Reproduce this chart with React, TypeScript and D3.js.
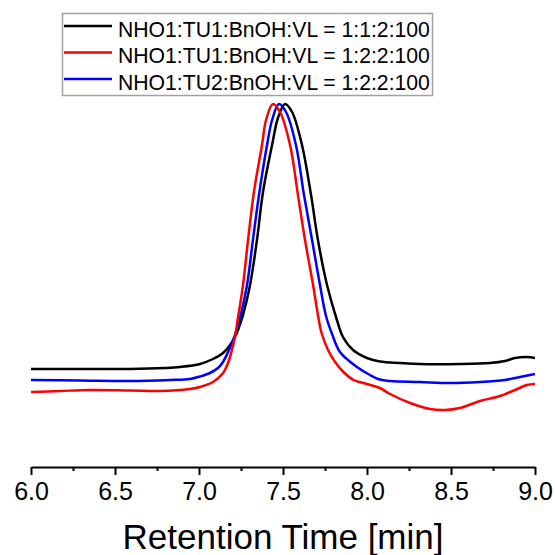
import { useEffect, useRef } from "react"
import { axisBottom, scaleLinear, line, curveCatmullRom, select } from "d3"

// retention time [min] and detector signal (a.u.)
const blackTime = [6.0, 6.292, 6.589, 6.798, 6.887, 7.006, 7.083, 7.143, 7.185, 7.214, 7.232, 7.262, 7.304, 7.345, 7.381, 7.435, 7.47, 7.512, 7.554, 7.613, 7.667, 7.708, 7.762, 7.821, 7.857, 7.917, 8.0, 8.077, 8.2, 8.315, 8.554, 8.732, 8.821, 8.881, 8.952, 9.0]
const blackSignal = [31, 31, 31, 32, 33, 36, 41, 47, 55, 63, 70, 85, 115, 160, 208, 255, 282, 296, 288, 255, 205, 160, 115, 80, 63, 50, 42, 38.5, 37, 36, 36, 37, 39, 42, 43, 42]

const redTime = [6.0, 6.173, 6.351, 6.589, 6.768, 6.946, 7.006, 7.083, 7.143, 7.173, 7.196, 7.214, 7.232, 7.262, 7.292, 7.327, 7.375, 7.399, 7.44, 7.482, 7.542, 7.589, 7.631, 7.679, 7.708, 7.728, 7.768, 7.81, 7.86, 7.92, 8.0, 8.077, 8.137, 8.256, 8.375, 8.464, 8.554, 8.673, 8.792, 8.881, 8.952, 9.0]
const redSignal = [8, 9, 10, 9.5, 9, 11, 13, 18, 27, 37, 50, 63, 82, 115, 160, 208, 255, 280, 296, 288, 255, 205, 160, 115, 85, 68, 50, 38, 28, 20, 16, 12, 6, -3, -9, -10, -8, -1, 4, 10, 15, 16]

const blueTime = [6.0, 6.292, 6.589, 6.827, 6.946, 7.006, 7.065, 7.113, 7.143, 7.173, 7.196, 7.214, 7.244, 7.286, 7.321, 7.357, 7.405, 7.435, 7.476, 7.518, 7.577, 7.625, 7.673, 7.72, 7.756, 7.792, 7.839, 7.94, 8.018, 8.077, 8.137, 8.315, 8.494, 8.673, 8.821, 8.911, 9.0]
const blueSignal = [20, 19.5, 19, 20, 21, 23.5, 27, 32, 38, 48, 57, 65, 82, 115, 160, 205, 255, 280, 296, 288, 255, 205, 160, 115, 84, 66, 48, 33, 25, 20.5, 19, 18, 17, 18, 20, 23, 26]

const seriesNames = [
  "NHO1:TU1:BnOH:VL = 1:1:2:100",
  "NHO1:TU1:BnOH:VL = 1:2:2:100",
  "NHO1:TU2:BnOH:VL = 1:2:2:100"
]
const seriesColors = ["#000000", "#ff0000", "#0000ff"]

const majorTicks = [6.0, 6.5, 7.0, 7.5, 8.0, 8.5, 9.0]
const minorTicks = [6.25, 6.75, 7.25, 7.75, 8.25, 8.75]

const FONT = "'Liberation Sans', Arial, sans-serif"

function AxisBottom({ scale, transform }) {
  const ref = useRef(null)
  const minorRef = useRef(null)

  useEffect(() => {
    if (ref.current) {
      const gen = axisBottom(scale)
        .tickValues(majorTicks)
        .tickFormat((d) => d.toFixed(1))
        .tickSize(8)
        .tickSizeOuter(0)
        .tickPadding(7)
      const g = select(ref.current).call(gen)
      g.attr("font-size", "25px").attr("font-family", FONT)
      g.select(".domain").attr("stroke", "black").attr("stroke-width", 2)
      g.selectAll(".tick line").attr("stroke", "black").attr("stroke-width", 2)
      g.selectAll(".tick text").attr("fill", "black")
    }
    if (minorRef.current) {
      const m = select(minorRef.current).call(
        axisBottom(scale).tickValues(minorTicks).tickSize(4).tickSizeOuter(0).tickFormat(() => "")
      )
      m.select(".domain").remove()
      m.selectAll(".tick line").attr("stroke", "black").attr("stroke-width", 2)
    }
  }, [scale])

  return (
    <g transform={transform}>
      <g ref={minorRef} />
      <g ref={ref} />
    </g>
  )
}

function Legend({ x, y }) {
  const rowH = 26.5
  return (
    <g transform={`translate(${x}, ${y})`}>
      <rect x={0.5} y={0.5} width={370} height={82} fill="white" stroke="#a0a0a0" strokeWidth={1.5} />
      {seriesNames.map((name, i) => (
        <g key={name} transform={`translate(0, ${13 + i * rowH})`}>
          <line x1={2} x2={50} y1={0} y2={0} stroke={seriesColors[i]} strokeWidth={2.5} />
          <text x={56} y={10.5} fontSize="21.2px" fontFamily={FONT} fill="black">
            {name}
          </text>
        </g>
      ))}
    </g>
  )
}

export default function App() {
  const w = 555
  const h = 555
  const margin = { left: 31, right: 20, top: 104, bottom: 90 }
  const axisY = 467

  const x = scaleLinear().domain([6.0, 9.0]).range([margin.left, w - margin.right])
  const y = scaleLinear().domain([-65, 296]).range([h - margin.bottom, margin.top])

  const path = line()
    .x((d) => x(d[0]))
    .y((d) => y(d[1]))
    .curve(curveCatmullRom.alpha(0.5))

  const series = [
    blackTime.map((t, i) => [t, blackSignal[i]]),
    redTime.map((t, i) => [t, redSignal[i]]),
    blueTime.map((t, i) => [t, blueSignal[i]])
  ]

  return (
    <svg width={w} height={h} style={{ position: "absolute", left: 0, top: 0, background: "white" }}>
      {[0, 2, 1].map((i) => (
        <path key={i} d={path(series[i])} fill="none" stroke={seriesColors[i]} strokeWidth={2.5} strokeLinejoin="round" />
      ))}
      <AxisBottom scale={x} transform={`translate(0, ${axisY})`} />
      <text x={(x(6) + x(9)) / 2} y={549} textAnchor="middle" fontSize="35px" fontFamily={FONT} fill="black">
        Retention Time [min]
      </text>
      <Legend x={62} y={13} />
    </svg>
  )
}
